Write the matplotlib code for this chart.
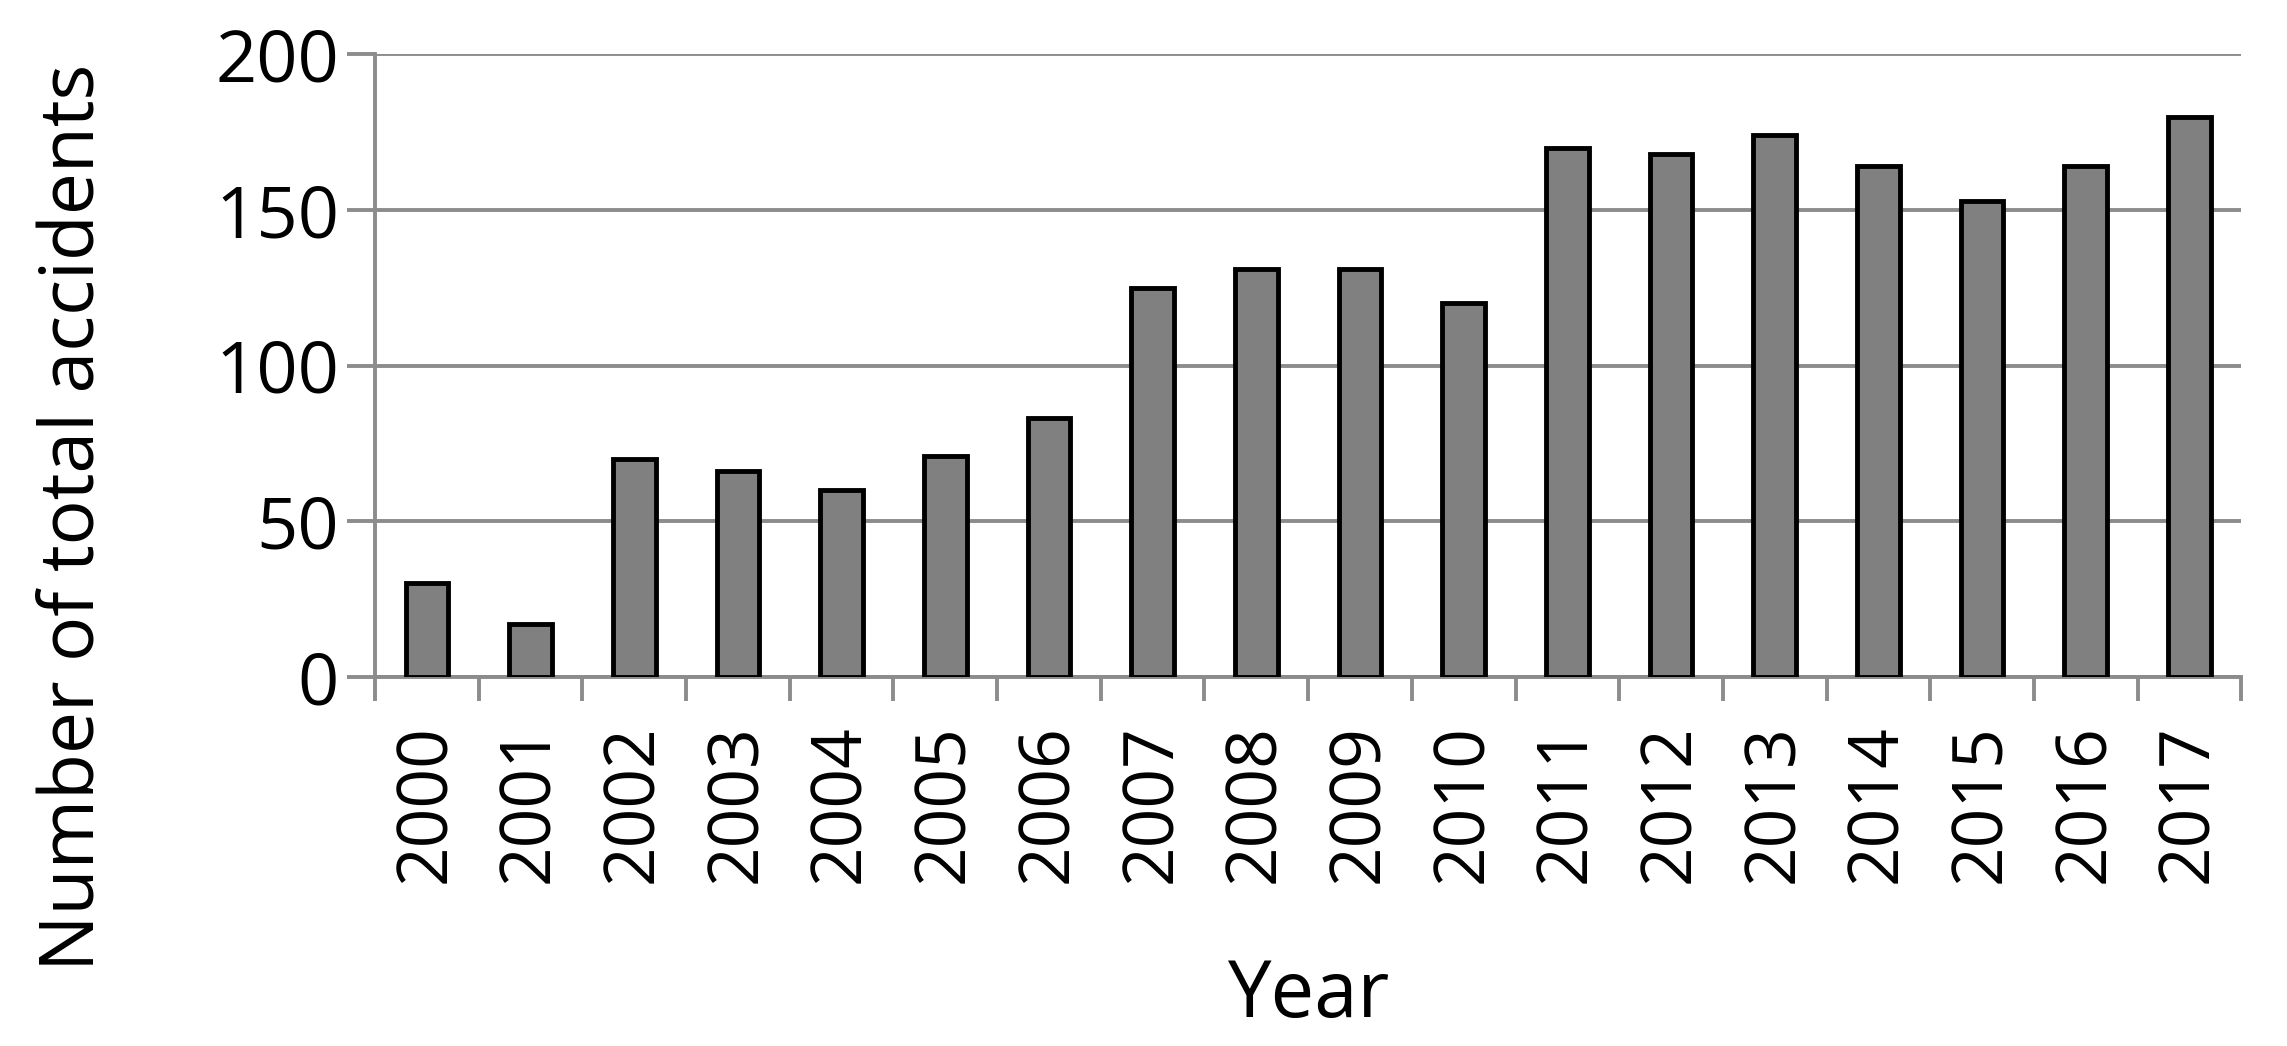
import matplotlib.pyplot as plt
import numpy as np

# dados do gráfico
anos = ['2000', '2001', '2002', '2003', '2004', '2005', '2006', '2007', '2008',
        '2009', '2010', '2011', '2012', '2013', '2014', '2015', '2016', '2017']
acidentes = [30, 17, 70, 66, 60, 71, 83, 125, 131, 131, 120, 170, 168, 174, 164, 153, 164, 180]

plt.rcParams['font.family'] = ['Open Sans', 'DejaVu Sans']
cinza = '#8c8c8c'

fig = plt.figure(figsize=(22.87, 10.46), dpi=100)
ax = fig.add_axes([0.164, 0.353, 0.816, 0.595])

x = np.arange(len(anos))
ax.bar(x, acidentes, width=0.41, color='#808080', edgecolor='black', linewidth=3.5, zorder=3)

ax.set_xlim(-0.5, len(anos) - 0.5)
ax.set_ylim(0, 200)
ax.set_yticks([0, 50, 100, 150, 200])
ax.yaxis.grid(True, color=cinza, linewidth=2.8, zorder=0)

# marcas do eixo x entre as categorias
ax.set_xticks(x)
ax.set_xticklabels(anos, rotation=90)
ax.set_xticks(np.arange(-0.5, len(anos)), minor=True)
ax.tick_params(axis='x', which='major', length=0, pad=34, labelsize=50)
ax.tick_params(axis='x', which='minor', length=17, width=2.8, color=cinza)
ax.tick_params(axis='y', length=20, width=2.8, color=cinza, labelsize=52, pad=6)

for lado in ['top', 'right']:
    ax.spines[lado].set_visible(False)
for lado in ['left', 'bottom']:
    ax.spines[lado].set_color(cinza)
    ax.spines[lado].set_linewidth(2.8)

# títulos dos eixos
fig.text(0.572, 0.028, 'Year', fontsize=56, ha='center', va='baseline')
fig.text(0.016, 0.505, 'Number of total accidents', fontsize=54, rotation=90,
         ha='left', va='center')

plt.savefig('out.png', dpi=100)
